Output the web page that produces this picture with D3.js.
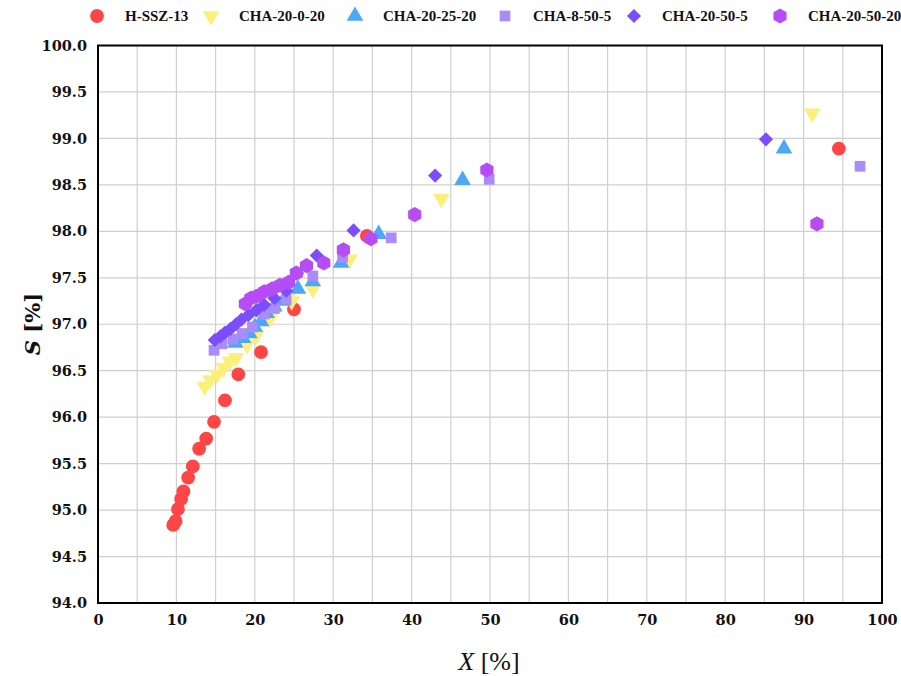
<!DOCTYPE html>
<html><head><meta charset="utf-8">
<script src="https://cdn.jsdelivr.net/npm/d3@7"></script>
<style>body{margin:0;background:#fff}svg{display:block}</style>
</head><body>
<svg id="c" width="901" height="676"></svg>
<script>
const seriesNames = ["H-SSZ-13","CHA-20-0-20","CHA-20-25-20","CHA-8-50-5","CHA-20-50-5","CHA-20-50-20"];
const hssz13 = [[9.6,94.84],[9.9,94.88],[10.2,95.01],[10.6,95.12],[10.9,95.20],[11.5,95.35],[12.1,95.47],[12.9,95.66],[13.8,95.77],[14.8,95.95],[16.2,96.18],[17.9,96.46],[20.8,96.70],[25.0,97.16],[34.3,97.95],[94.5,98.89]];
const cha20020 = [[13.6,96.33],[14.3,96.40],[15.2,96.46],[16.0,96.53],[16.8,96.60],[17.6,96.64],[19.0,96.78],[20.2,96.88],[21.9,97.06],[24.7,97.25],[27.4,97.38],[32.1,97.70],[43.8,98.35],[91.1,99.27]];
const cha202520 = [[17.5,96.80],[18.5,96.85],[19.3,96.90],[20.0,96.97],[20.8,97.03],[21.5,97.12],[22.5,97.19],[23.6,97.25],[25.5,97.38],[27.4,97.46],[31.0,97.66],[35.8,97.97],[46.5,98.55],[87.5,98.89]];
const cha8505 = [[14.8,96.72],[15.8,96.79],[17.2,96.84],[18.4,96.90],[19.7,96.97],[21.2,97.11],[22.5,97.17],[24.0,97.27],[27.4,97.52],[31.2,97.72],[37.4,97.93],[49.9,98.56],[97.2,98.70]];
const cha20505 = [[14.9,96.83],[15.6,96.87],[16.2,96.91],[16.9,96.95],[17.6,97.00],[18.3,97.05],[19.2,97.10],[20.2,97.15],[21.2,97.21],[22.5,97.28],[24.0,97.36],[25.4,97.55],[27.9,97.74],[32.6,98.01],[43.0,98.60],[85.2,98.99]];
const cha205020 = [[18.8,97.22],[19.5,97.28],[20.2,97.30],[21.2,97.35],[22.2,97.38],[23.2,97.42],[24.3,97.45],[25.3,97.55],[26.6,97.63],[28.8,97.66],[31.3,97.80],[34.8,97.92],[40.4,98.18],[49.6,98.66],[91.7,98.08]];
const xTicks = [0,10,20,30,40,50,60,70,80,90,100];
const yTicks = [94.0,94.5,95.0,95.5,96.0,96.5,97.0,97.5,98.0,98.5,99.0,99.5,100.0];

const allData = [hssz13,cha20020,cha202520,cha8505,cha20505,cha205020];
const colors = ["#ff4545","#fdf07a","#4aa8f7","#a98cf9","#7b4dfb","#b54cf6"];

const hexagon = { draw(ctx, size){ const r = Math.sqrt(size/2.598); for(let i=0;i<6;i++){const a=Math.PI/3*i - Math.PI/2; const x=r*Math.cos(a), y=r*Math.sin(a); if(i===0) ctx.moveTo(x,y); else ctx.lineTo(x,y);} ctx.closePath(); } };
const shapes = [
  {type:d3.symbolCircle,size:150,rot:0},
  {type:d3.symbolTriangle,size:120,rot:180},
  {type:d3.symbolTriangle,size:120,rot:0},
  {type:d3.symbolSquare,size:115,rot:0},
  {type:d3.symbolSquare,size:100,rot:45},
  {type:hexagon,size:150,rot:0}
];

const svg = d3.select("#c");
const L=98, R=882, T=45.5, B=603;
const x = d3.scaleLinear().domain([0,100]).range([L,R]);
const y = d3.scaleLinear().domain([94,100]).range([B,T]);

// grid
const g = svg.append("g");
g.selectAll("line.v").data(d3.range(5,100,5)).join("line")
  .attr("x1",d=>x(d)).attr("x2",d=>x(d)).attr("y1",T).attr("y2",B)
  .attr("stroke","#cfcfcf").attr("stroke-width",1.2);
g.selectAll("line.h").data(yTicks.slice(1,-1)).join("line")
  .attr("y1",d=>y(d)).attr("y2",d=>y(d)).attr("x1",L).attr("x2",R)
  .attr("stroke","#cfcfcf").attr("stroke-width",1.2);

// frame
svg.append("rect").attr("x",L).attr("y",T).attr("width",R-L).attr("height",B-T)
  .attr("fill","none").attr("stroke","#000").attr("stroke-width",2);

// axes
const tickFont = "'DejaVu Serif', serif";
const xAxis = d3.axisBottom(x).tickValues(xTicks).tickSize(0).tickPadding(12).tickFormat(d3.format("d"));
const xa = svg.append("g").attr("transform",`translate(0,${B})`).call(xAxis);
xa.select(".domain").remove();
xa.selectAll("text").attr("font-family",tickFont).attr("font-weight","bold").attr("font-size",14.5).attr("fill","#111");
const yAxis = d3.axisLeft(y).tickValues(yTicks).tickSize(0).tickPadding(11).tickFormat(d3.format(".1f"));
const ya = svg.append("g").attr("transform",`translate(${L},0)`).call(yAxis);
ya.select(".domain").remove();
ya.selectAll("text").attr("font-family",tickFont).attr("font-weight","bold").attr("font-size",14.5).attr("fill","#111");

// axis titles
const xt = svg.append("text").attr("x",489).attr("y",670).attr("text-anchor","middle")
  .attr("font-family","'Liberation Serif', serif").attr("font-size",26).attr("fill","#111");
xt.append("tspan").attr("font-style","italic").text("X");
xt.append("tspan").text(" [%]");
const yt = svg.append("text").attr("transform","translate(40,324) rotate(-90)").attr("text-anchor","middle")
  .attr("font-family","'DejaVu Serif', serif").attr("font-weight","bold").attr("font-size",21).attr("fill","#111");
yt.append("tspan").attr("font-style","italic").text("S");
yt.append("tspan").text(" [%]");

// points
allData.forEach((data,i)=>{
  const sym = d3.symbol().type(shapes[i].type).size(shapes[i].size);
  svg.append("g").selectAll("path").data(data).join("path")
    .attr("d",sym)
    .attr("transform",d=>`translate(${x(d[0])},${y(d[1])}) rotate(${shapes[i].rot})`)
    .attr("fill",colors[i]);
});

// legend
const legX = [97,211,355,505,634,780];
seriesNames.forEach((n,i)=>{
  const sym = d3.symbol().type(shapes[i].type).size(shapes[i].size);
  svg.append("path").attr("d",sym)
    .attr("transform",`translate(${legX[i]},16) rotate(${shapes[i].rot})`).attr("fill",colors[i]);
  svg.append("text").attr("x",legX[i]+28).attr("y",21).text(n)
    .attr("font-family","'Liberation Serif', serif").attr("font-weight","bold").attr("font-size",15).attr("fill","#111");
});
</script>
</body></html>
